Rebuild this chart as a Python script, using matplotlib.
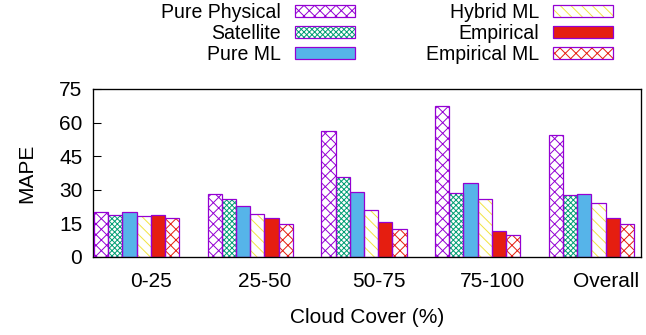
import matplotlib
matplotlib.use("Agg")
import matplotlib.pyplot as plt
from matplotlib.patches import Patch
from matplotlib.legend_handler import HandlerTuple
import numpy as np

# MAPE per cloud-cover bin for each model family
groups = ["0-25", "25-50", "50-75", "75-100", "Overall"]
series = ["Pure Physical", "Satellite", "Pure ML", "Hybrid ML", "Empirical", "Empirical ML"]
pure_physical = [20.0, 28.1, 56.4, 67.6, 54.5]
satellite = [18.8, 26.0, 35.9, 28.7, 27.5]
pure_ml = [20.2, 22.6, 29.2, 32.9, 28.1]
hybrid_ml = [18.2, 19.0, 21.1, 25.7, 24.1]
empirical = [18.6, 17.4, 15.8, 11.8, 17.3]
empirical_ml = [17.3, 14.6, 12.6, 9.8, 14.9]
values = [pure_physical, satellite, pure_ml, hybrid_ml, empirical, empirical_ml]

# (face, hatch, hatch colour) per series, gnuplot-like palette
edge = "#9400D3"
styles = [
    ("white", "xx", "#9400D3"),
    ("white", "xxxx", "#009E73"),
    ("#56B4E9", "", "#56B4E9"),
    ("white", "\\\\", "#F0E442"),
    ("#E51E10", "", "#E51E10"),
    ("white", "xx", "#E51E10"),
]

plt.rcParams["font.family"] = ["Liberation Sans", "DejaVu Sans"]
plt.rcParams["hatch.linewidth"] = 1.1

W, H, DPI = 646, 335, 64
FS = 23.5
fig = plt.figure(figsize=(W / DPI, H / DPI), dpi=DPI)
ax = fig.add_axes([93 / W, 1 - 257 / H, (641 - 93) / W, (257 - 89) / H])

x = np.arange(len(groups))
width = 1 / 8
handles = []
for k, (name, vals) in enumerate(zip(series, values)):
    face, hatch, hcol = styles[k]
    pos = x + (k - 2.5) * width
    # hatch layer (edgecolor sets the hatch colour), then the outline on top
    ax.bar(pos, vals, width, color=face, hatch=hatch, edgecolor=hcol, linewidth=0, zorder=2)
    ax.bar(pos, vals, width, fill=False, edgecolor=edge, linewidth=1.4, zorder=3)
    handles.append((Patch(facecolor=face, hatch=hatch, edgecolor=hcol, linewidth=0),
                    Patch(fill=False, edgecolor=edge, linewidth=1.4)))

ax.set_xlim(-0.383, 4.436)
ax.set_ylim(0, 75)
ax.set_yticks([0, 15, 30, 45, 60, 75])
# category labels sit a little right of the cluster centre
ax.set_xticks(x + 0.13)
ax.set_xticklabels(groups)
ax.tick_params(axis="y", direction="in", length=9, width=1.2, labelsize=FS, pad=12, right=False)
ax.tick_params(axis="x", length=0, labelsize=FS, pad=16.5)
for s in ax.spines.values():
    s.set_linewidth(1.5)
ax.set_ylabel("MAPE", fontsize=FS, labelpad=25)
ax.set_xlabel("Cloud Cover (%)", fontsize=FS, labelpad=20)

# key: label to the left of its sample, two stacked columns
def key(items, labels, right_px):
    return fig.legend(items, labels, loc="upper right",
                      bbox_to_anchor=(right_px / W, 1 - 3 / H),
                      frameon=False, markerfirst=False, fontsize=22,
                      handlelength=3.06, handleheight=0.56,
                      handletextpad=0.72, labelspacing=0.1, borderpad=0,
                      borderaxespad=0,
                      handler_map={tuple: HandlerTuple(ndivide=1, pad=0)})

key(handles[:3], series[:3], 355)
key(handles[3:], series[3:], 613)

fig.savefig("out.png", dpi=DPI)
